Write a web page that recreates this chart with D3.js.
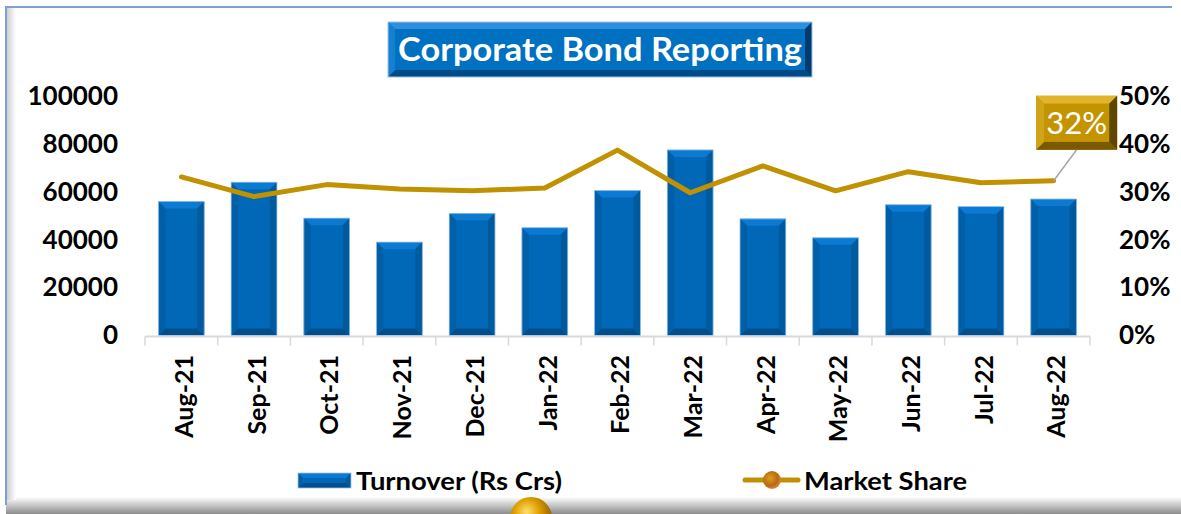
<!DOCTYPE html>
<html>
<head>
<meta charset="utf-8">
<script src="https://cdn.jsdelivr.net/npm/d3@7"></script>
<style>
    body { margin: 0; background: #ffffff; }
    svg { display: block; }
</style>
</head>
<body>
<div id="chart"></div>
<script>
// chart data
const months = ['Aug-21', 'Sep-21', 'Oct-21', 'Nov-21', 'Dec-21', 'Jan-22', 'Feb-22',
    'Mar-22', 'Apr-22', 'May-22', 'Jun-22', 'Jul-22', 'Aug-22'];
const turnover = [56000, 64000, 49000, 39000, 51000, 45000, 60500, 77500, 48700, 40800, 54600, 53800, 57000];
const marketShare = [0.331, 0.29, 0.315, 0.306, 0.302, 0.308, 0.387, 0.298, 0.354, 0.302, 0.342, 0.319, 0.323];
const leftTicks = [0, 20000, 40000, 60000, 80000, 100000];
const rightTicks = [0, 0.1, 0.2, 0.3, 0.4, 0.5];

const size = { width: 1181, height: 514 };
const plot = { left: 145, right: 1090, top: 96, bottom: 335.5 };
const font = 'Lato, "Open Sans", sans-serif';

const svg = d3.select('#chart')
    .append('svg')
    .attr('width', size.width)
    .attr('height', size.height);

const defs = svg.append('defs');

// gradients
const frameShadow = defs.append('linearGradient').attr('id', 'frameShadow')
    .attr('x1', 0).attr('y1', 0).attr('x2', 0).attr('y2', 1);
frameShadow.append('stop').attr('offset', '0%').attr('stop-color', '#ffffff');
frameShadow.append('stop').attr('offset', '100%').attr('stop-color', '#8c8c8c');

const leftShadow = defs.append('linearGradient').attr('id', 'leftShadow')
    .attr('x1', 0).attr('y1', 0).attr('x2', 1).attr('y2', 0);
leftShadow.append('stop').attr('offset', '0%').attr('stop-color', '#d0d0d0');
leftShadow.append('stop').attr('offset', '100%').attr('stop-color', '#ffffff');

const sphere = defs.append('radialGradient').attr('id', 'sphere')
    .attr('cx', '40%').attr('cy', '35%').attr('r', '65%');
sphere.append('stop').attr('offset', '0%').attr('stop-color', '#ffe070');
sphere.append('stop').attr('offset', '45%').attr('stop-color', '#e0a000');
sphere.append('stop').attr('offset', '100%').attr('stop-color', '#8a5a00');

const legendSphere = defs.append('radialGradient').attr('id', 'legendSphere')
    .attr('cx', '40%').attr('cy', '40%').attr('r', '60%');
legendSphere.append('stop').attr('offset', '0%').attr('stop-color', '#d8a020');
legendSphere.append('stop').attr('offset', '70%').attr('stop-color', '#b86a10');
legendSphere.append('stop').attr('offset', '100%').attr('stop-color', '#e08040');

// frame
svg.append('rect')
    .attr('x', 6).attr('y', 497).attr('width', 1175).attr('height', 17)
    .style('fill', 'url(#frameShadow)');
svg.append('rect')
    .attr('x', 7).attr('y', 8).attr('width', 9).attr('height', 492)
    .style('fill', 'url(#leftShadow)');
svg.append('path')
    .attr('d', 'M6,505 L6,7 L1172,7')
    .style('fill', 'none')
    .style('stroke', '#7f9ed6')
    .style('stroke-width', 2);

// scales
const xScale = d3.scaleBand()
    .domain(months)
    .range([plot.left, plot.right])
    .paddingInner(0.37)
    .paddingOuter(0.185);
const yLeft = d3.scaleLinear().domain([0, 100000]).range([plot.bottom, plot.top]);
const yRight = d3.scaleLinear().domain([0, 0.5]).range([plot.bottom, plot.top]);

// bevelled bar helper
function drawBevelBar(g, x, y, w, h, b) {
    g.append('rect').attr('x', x).attr('y', y).attr('width', w).attr('height', h)
        .style('fill', '#0068b6');
    g.append('polygon')
        .attr('points', [[x, y], [x + w, y], [x + w - b, y + b], [x + b, y + b]].join(' '))
        .style('fill', '#0a7ad2');
    g.append('polygon')
        .attr('points', [[x, y + h], [x + w, y + h], [x + w - b, y + h - b], [x + b, y + h - b]].join(' '))
        .style('fill', '#004f8c');
    g.append('polygon')
        .attr('points', [[x, y], [x + b, y + b], [x + b, y + h - b], [x, y + h]].join(' '))
        .style('fill', '#005fa6');
    g.append('polygon')
        .attr('points', [[x + w, y], [x + w - b, y + b], [x + w - b, y + h - b], [x + w, y + h]].join(' '))
        .style('fill', '#005a9e');
    g.append('rect').attr('x', x).attr('y', y).attr('width', w).attr('height', h)
        .style('fill', 'none').style('stroke', '#9dc3e6').style('stroke-width', 0.8);
}

// bars
const barContainer = svg.append('g').attr('class', 'bars');
months.forEach((m, i) => {
    const x = xScale(m);
    const y = yLeft(turnover[i]);
    drawBevelBar(barContainer.append('g'), x, y, xScale.bandwidth(), plot.bottom - y, 7);
});

// x axis line and ticks
const xAxisG = svg.append('g').attr('class', 'xAxis');
xAxisG.append('line')
    .attr('x1', plot.left).attr('x2', plot.right)
    .attr('y1', plot.bottom + 1).attr('y2', plot.bottom + 1)
    .style('stroke', '#d9d9d9').style('stroke-width', 2);
const boundaries = months.map(m => xScale(m) - xScale.step() * xScale.paddingInner() / 2)
    .concat([plot.right]);
xAxisG.selectAll('line.tick')
    .data(boundaries)
    .enter()
    .append('line')
    .attr('class', 'tick')
    .attr('x1', d => d).attr('x2', d => d)
    .attr('y1', plot.bottom + 1).attr('y2', plot.bottom + 10)
    .style('stroke', '#d9d9d9').style('stroke-width', 1.5);
xAxisG.selectAll('text')
    .data(months)
    .enter()
    .append('text')
    .attr('transform', d => 'translate(' + (xScale(d) + xScale.bandwidth() / 2 + 3) + ',355) rotate(-90)')
    .attr('text-anchor', 'end')
    .attr('dy', '0.35em')
    .style('font-family', font)
    .style('font-weight', 'bold')
    .style('font-size', '25px')
    .style('fill', '#000')
    .text(d => d);

// y axes
const leftAxis = svg.append('g')
    .attr('transform', 'translate(118,0)')
    .call(d3.axisLeft(yLeft).tickValues(leftTicks).tickSize(0).tickPadding(0).tickFormat(d3.format('d')));
const rightAxis = svg.append('g')
    .attr('transform', 'translate(1119,0)')
    .call(d3.axisRight(yRight).tickValues(rightTicks).tickSize(0).tickPadding(0).tickFormat(d3.format('.0%')));
[leftAxis, rightAxis].forEach(a => {
    a.select('.domain').remove();
    a.selectAll('text')
        .style('font-family', font)
        .style('font-weight', 'bold')
        .style('font-size', '26px')
        .style('fill', '#000');
});

// market share line
const line = d3.line()
    .x((d, i) => xScale(months[i]) + xScale.bandwidth() / 2)
    .y(d => yRight(d));
svg.append('path')
    .datum(marketShare)
    .attr('d', line)
    .style('fill', 'none')
    .style('stroke', '#c09100')
    .style('stroke-width', 5)
    .style('stroke-linejoin', 'round')
    .style('stroke-linecap', 'round');

// data label on last point
const last = marketShare.length - 1;
const px = xScale(months[last]) + xScale.bandwidth() / 2;
const py = yRight(marketShare[last]);
const labelBox = { w: 81, h: 54, dx: 23, dy: -58 };
const lbx = px + labelBox.dx - labelBox.w / 2;
const lby = py + labelBox.dy - labelBox.h / 2;
svg.append('line')
    .attr('x1', px).attr('y1', py)
    .attr('x2', px + labelBox.dx).attr('y2', lby + labelBox.h)
    .style('stroke', '#a6a6a6').style('stroke-width', 1.5);
const labelG = svg.append('g');
(function () {
    const x = lbx, y = lby, w = labelBox.w, h = labelBox.h, b = 8;
    labelG.append('rect').attr('x', x).attr('y', y).attr('width', w).attr('height', h).style('fill', '#bf9000');
    labelG.append('polygon').attr('points', [[x, y], [x + w, y], [x + w - b, y + b], [x + b, y + b]].join(' '))
        .style('fill', '#e0b52a');
    labelG.append('polygon').attr('points', [[x, y + h], [x + w, y + h], [x + w - b, y + h - b], [x + b, y + h - b]].join(' '))
        .style('fill', '#7a5a00');
    labelG.append('polygon').attr('points', [[x, y], [x + b, y + b], [x + b, y + h - b], [x, y + h]].join(' '))
        .style('fill', '#d0a418');
    labelG.append('polygon').attr('points', [[x + w, y], [x + w - b, y + b], [x + w - b, y + h - b], [x + w, y + h]].join(' '))
        .style('fill', '#5e4500');
    labelG.append('rect').attr('x', x + b).attr('y', y + b).attr('width', w - 2 * b).attr('height', h - 2 * b)
        .style('fill', '#c49400');
})();
labelG.append('text')
    .attr('x', lbx + labelBox.w / 2)
    .attr('y', lby + labelBox.h / 2)
    .attr('dy', '0.36em')
    .attr('text-anchor', 'middle')
    .style('font-family', font)
    .style('font-size', '31px')
    .style('fill', '#ffffff')
    .text(d3.format('.0%')(marketShare[last]));

// title
const title = { x: 388, y: 22, w: 424, h: 55, b: 7 };
const titleG = svg.append('g');
(function () {
    const x = title.x, y = title.y, w = title.w, h = title.h, b = title.b;
    titleG.append('rect').attr('x', x).attr('y', y).attr('width', w).attr('height', h).style('fill', '#0070c0');
    titleG.append('polygon').attr('points', [[x, y], [x + w, y], [x + w - b, y + b], [x + b, y + b]].join(' '))
        .style('fill', '#2f8fdc');
    titleG.append('polygon').attr('points', [[x, y + h], [x + w, y + h], [x + w - b, y + h - b], [x + b, y + h - b]].join(' '))
        .style('fill', '#004a88');
    titleG.append('polygon').attr('points', [[x, y], [x + b, y + b], [x + b, y + h - b], [x, y + h]].join(' '))
        .style('fill', '#1580cf');
    titleG.append('polygon').attr('points', [[x + w, y], [x + w - b, y + b], [x + w - b, y + h - b], [x + w, y + h]].join(' '))
        .style('fill', '#003a6e');
    titleG.append('rect').attr('x', x).attr('y', y).attr('width', w).attr('height', h)
        .style('fill', 'none').style('stroke', '#9dc3e6').style('stroke-width', 1);
})();
titleG.append('text')
    .attr('x', title.x + title.w / 2)
    .attr('y', title.y + title.h / 2)
    .attr('dy', '0.36em')
    .attr('text-anchor', 'middle')
    .attr('textLength', 404)
    .attr('lengthAdjust', 'spacingAndGlyphs')
    .style('font-family', font)
    .style('font-weight', 'bold')
    .style('font-size', '32px')
    .style('fill', '#ffffff')
    .text('Corporate Bond Reporting');

// legend
const legend = svg.append('g').attr('class', 'legend');
drawBevelBar(legend.append('g'), 298, 473, 53, 15, 5);
legend.append('text')
    .attr('x', 356).attr('y', 481).attr('dy', '0.36em')
    .attr('textLength', 206).attr('lengthAdjust', 'spacingAndGlyphs')
    .style('font-family', font).style('font-weight', 'bold').style('font-size', '25px')
    .text('Turnover (Rs Crs)');
legend.append('line')
    .attr('x1', 745).attr('x2', 798).attr('y1', 480).attr('y2', 480)
    .style('stroke', '#c09100').style('stroke-width', 5).style('stroke-linecap', 'round');
legend.append('circle')
    .attr('cx', 772).attr('cy', 480).attr('r', 9)
    .style('fill', 'url(#legendSphere)');
legend.append('text')
    .attr('x', 804).attr('y', 481).attr('dy', '0.36em')
    .attr('textLength', 163).attr('lengthAdjust', 'spacingAndGlyphs')
    .style('font-family', font).style('font-weight', 'bold').style('font-size', '25px')
    .text('Market Share');

// decorative sphere at the bottom edge
svg.append('circle')
    .attr('cx', 531).attr('cy', 518).attr('r', 21)
    .style('fill', 'url(#sphere)');
</script>
</body>
</html>
